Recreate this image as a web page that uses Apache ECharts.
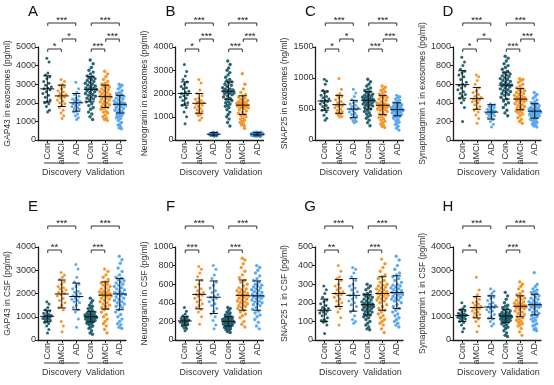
<!DOCTYPE html>
<html><head><meta charset="utf-8">
<script src="https://cdn.jsdelivr.net/npm/echarts@6/dist/echarts.min.js"></script>
<style>html,body{margin:0;padding:0;background:#fff}#c{width:554px;height:385px}</style>
</head><body><div id="c"></div>
<script>
const cats = ['Con','aMCI','AD','Con','aMCI','AD'];
const cohorts = ['Discovery','Validation'];
const letters = ['A','B','C','D','E','F','G','H'];
const yNames = ['GAP43 in exosomes (pg/ml)','Neurogranin in exosomes (pg/ml)','SNAP25 in exosomes (ng/ml)','Synaptotagmin 1 in exosomes (pg/ml)',
  'GAP43 in CSF (pg/ml)','Neurogranin in CSF (pg/ml)','SNAP25 1 in CSF (pg/ml)','Synaptotagmin 1 in CSF (pg/ml)'];
const yMax = [5000,4000,1500,1000,4000,1000,500,4000];
const yStep = [1000,1000,500,200,1000,200,100,1000];
const colors = ['#1c5d6d','#f39223','#52a5f0'];

// ---- Panel A
const A_dCon=[4400,4200,3600,3500,3400,3300,3150,3050,2950,2850,2800,2750,2700,2600,2500,2400,2300,2150,2050,2000,1950,1800,1600,1500];
const A_dMci=[3250,3150,3000,2950,2850,2750,2650,2600,2500,2450,2400,2350,2300,2250,2150,2100,2000,1950,1850,1750,1600,1450,1300,1150];
const A_dAd=[3100,2750,2550,2450,2350,2250,2200,2150,2100,2050,2000,1950,1900,1850,1800,1750,1700,1650,1550,1500,1400,1300,1200,1100];
const A_vCon=[4300,4100,3900,3750,3650,3550,3450,3400,3350,3300,3250,3200,3150,3100,3050,3000,2950,2900,2850,2800,2780,2750,2720,2700,2650,2600,2550,2500,2450,2400,2350,2300,2250,2200,2150,2050,1950,1850,1750,1650,1500,1400,1250,1100];
const A_vMci=[3700,3550,3400,3250,3150,3050,3000,2950,2900,2850,2800,2750,2700,2650,2600,2550,2500,2450,2400,2380,2350,2320,2300,2250,2200,2150,2100,2050,2000,1950,1900,1850,1800,1750,1700,1650,1550,1500,1450,1350,1250,1200,1100,1050];
const A_vAd=[3000,2950,2850,2750,2650,2550,2500,2450,2400,2350,2300,2250,2200,2150,2100,2050,2000,1980,1950,1920,1900,1880,1850,1800,1750,1700,1650,1600,1550,1500,1450,1400,1350,1300,1250,1200,1150,1050,950,850,800,700,650,600];
const A_mean=[2750,2370,2000,2720,2330,1920], A_lo=[2050,1800,1550,2050,1750,1450], A_hi=[3450,2950,2500,3400,2950,2400];
const A_sig=['*','*','***','***','***','***'];
// ---- Panel B
const B_dCon=[3250,2950,2750,2600,2500,2400,2300,2250,2200,2100,2050,2000,1950,1900,1850,1800,1700,1600,1550,1500,1400,1200,1000,700];
const B_dMci=[2600,2450,2150,2000,1900,1800,1750,1700,1650,1600,1580,1550,1500,1450,1400,1350,1300,1250,1200,1150,1100,1050,950,850];
const B_dAd=[350,330,310,300,290,280,275,270,265,260,255,250,245,240,235,230,225,220,210,200,190,180,170,150];
const B_vCon=[3400,3250,3100,3000,2900,2800,2700,2600,2550,2500,2450,2400,2350,2300,2250,2200,2180,2150,2120,2100,2080,2050,2020,2000,1980,1950,1900,1850,1800,1750,1700,1650,1600,1550,1500,1450,1400,1300,1200,1100,1000,900,750,600];
const B_vMci=[2850,2400,2200,2050,1950,1900,1850,1800,1750,1700,1680,1650,1620,1600,1580,1550,1520,1500,1480,1450,1420,1400,1380,1350,1300,1250,1200,1150,1100,1050,1000,950,900,850,800,750,700,650,600,1600,1500,1450,1550,500];
const B_vAd=[350,340,330,320,315,310,305,300,295,290,285,280,275,272,270,268,265,262,260,258,255,252,250,248,245,242,240,238,235,232,230,225,220,215,210,205,200,195,190,185,180,170,160,150];
const B_mean=[2000,1580,250,2100,1500,250], B_lo=[1500,1150,180,1750,1100,180], B_hi=[2500,2000,320,2500,1900,320];
const B_sig=['*','***','***','***','***','***'];
// ---- Panel C
const C_dCon=[980,950,900,800,780,760,720,700,680,660,640,630,620,600,580,560,540,520,500,480,450,400,350,320];
const C_dMci=[990,820,750,720,700,680,650,620,600,580,570,560,550,540,520,500,480,460,440,430,420,400,380,370];
const C_dAd=[820,760,700,650,620,600,580,560,540,520,510,500,490,470,450,430,410,390,370,350,330,310,300,280];
const C_vCon=[980,940,900,870,840,820,800,780,760,740,730,720,710,700,690,680,670,660,650,645,640,635,630,620,610,600,590,580,570,560,550,540,520,500,480,460,440,420,400,380,350,320,280,230];
const C_vMci=[870,850,820,800,780,760,740,720,700,690,680,660,640,620,600,590,580,570,565,560,555,550,545,540,530,520,510,500,490,480,460,440,420,400,380,360,340,320,300,280,260,240,220,200];
const C_vAd=[720,700,680,660,640,620,600,590,580,570,560,550,540,530,520,510,505,500,495,490,485,480,475,470,465,460,450,440,430,420,410,400,390,380,370,350,330,310,290,270,250,220,190,160];
const C_mean=[630,570,500,640,560,490], C_lo=[480,430,360,500,410,390], C_hi=[790,720,640,780,720,600];
const C_sig=['*','*','***','***','***','***'];
// ---- Panel D
const D_dCon=[890,840,800,760,740,720,700,680,650,620,600,590,580,560,540,520,500,490,470,450,430,400,350,200];
const D_dMci=[700,680,640,600,560,530,510,490,470,460,450,440,430,420,410,400,380,360,340,320,300,270,230,180];
const D_dAd=[390,380,370,360,350,340,330,320,315,310,305,300,295,290,285,280,270,260,250,240,220,200,170,140];
const D_vCon=[900,880,850,820,800,780,760,740,720,710,700,690,680,670,660,650,640,630,620,610,600,595,590,585,580,570,560,550,540,530,520,510,500,490,480,460,440,420,400,380,350,320,290,260];
const D_vMci=[660,650,640,620,600,580,560,550,540,530,520,510,500,490,480,470,460,455,450,445,440,435,430,425,420,410,400,390,380,370,360,350,340,330,320,310,300,290,280,260,240,220,200,180];
const D_vAd=[510,490,470,450,430,410,400,390,380,370,360,350,345,340,335,330,325,320,315,310,305,300,298,295,290,285,280,275,270,265,260,255,250,240,230,220,210,200,190,180,170,160,150,140];
const D_mean=[595,445,300,590,440,310], D_lo=[450,330,225,440,325,235], D_hi=[745,565,380,730,555,390];
const D_sig=['*','*','***','***','***','***'];
// ---- Panel E
const E_dCon=[1650,1550,1400,1300,1250,1200,1150,1100,1080,1050,1020,1000,980,950,920,900,880,850,800,750,700,600,450,300];
const E_dMci=[2900,2800,2700,2600,2500,2400,2300,2250,2200,2150,2100,2050,2000,1950,1900,1800,1700,1600,1500,1400,1300,800,600,350];
const E_dAd=[3250,3050,2700,2500,2400,2300,2200,2100,2050,2000,1950,1900,1850,1800,1750,1700,1650,1600,1500,1400,1300,1200,900,550];
const E_vCon=[1800,1700,1600,1500,1450,1400,1350,1300,1250,1200,1180,1150,1120,1100,1080,1060,1040,1020,1010,1000,990,980,970,960,950,940,920,900,880,860,840,820,800,780,750,720,700,650,600,550,500,400,300,250];
const E_vMci=[3050,2950,2800,2700,2600,2500,2450,2400,2350,2300,2250,2200,2150,2100,2080,2050,2020,2000,1980,1950,1920,1900,1880,1850,1800,1750,1700,1650,1600,1550,1500,1450,1400,1350,1300,1200,1100,1000,900,800,700,600,450,300];
const E_vAd=[3600,3450,3300,3100,2950,2800,2700,2650,2600,2550,2500,2450,2400,2350,2300,2250,2200,2150,2100,2050,2000,1980,1950,1900,1850,1800,1750,1700,1650,1600,1550,1500,1450,1400,1300,1200,1100,1000,900,800,700,650,550,500];
const E_mean=[1020,1980,1870,1000,1930,1980], E_lo=[780,1380,1300,780,1330,1300], E_hi=[1280,2580,2450,1220,2500,2650];
const E_sig=['**',null,'***','***',null,'***'];
// ---- Panel F
const F_dCon=[350,310,280,260,250,240,230,225,220,215,210,205,200,195,190,185,180,170,160,150,140,130,120,100];
const F_dMci=[790,760,720,680,640,600,570,550,530,510,500,490,480,470,450,430,410,390,370,350,330,300,250,170];
const F_dAd=[800,760,700,660,620,590,560,530,510,490,470,460,450,430,410,390,370,340,310,280,250,210,160,120];
const F_vCon=[350,340,320,300,290,280,270,260,250,245,240,235,230,225,220,215,210,207,204,200,197,194,190,187,184,180,176,172,168,164,160,155,150,145,140,135,130,125,120,115,110,100,90,80];
const F_vMci=[880,860,820,780,740,700,670,640,620,600,580,560,550,540,530,520,510,500,490,485,480,475,470,460,450,440,430,420,410,400,390,380,370,360,350,340,320,300,280,260,240,200,170,140];
const F_vAd=[800,780,750,720,690,660,640,620,600,590,580,570,560,550,540,530,520,510,500,490,480,475,470,465,460,450,440,430,420,410,400,390,380,370,350,330,310,290,270,250,220,190,150,120];
const F_mean=[205,490,460,200,480,475], F_lo=[160,335,285,150,320,320], F_hi=[250,645,635,250,645,635];
const F_sig=['***',null,'***','***',null,'***'];
// ---- Panel G
const G_dCon=[290,270,250,230,215,205,195,185,175,170,165,160,155,150,145,140,130,120,110,105,100,95,80,35];
const G_dMci=[400,370,340,330,320,300,290,280,270,260,255,250,245,240,230,220,210,200,190,180,170,150,120,80];
const G_dAd=[390,380,360,340,320,300,290,280,270,260,250,240,230,220,210,200,190,180,160,150,130,110,100,90];
const G_vCon=[300,290,280,270,260,250,245,240,235,230,225,220,215,210,205,200,197,194,191,188,185,182,180,177,174,170,166,162,158,154,150,145,140,135,130,125,120,110,100,90,80,70,60,55];
const G_vMci=[435,410,390,370,350,340,330,320,310,300,295,290,285,280,275,270,265,260,255,250,248,245,240,235,230,225,220,215,210,200,190,180,170,160,150,140,130,120,110,100,90,80,60,40];
const G_vAd=[450,430,400,380,360,350,340,330,320,310,300,295,290,285,280,275,270,265,260,255,250,248,245,240,235,230,225,220,215,210,200,190,180,170,160,150,140,130,120,110,100,90,80,70];
const G_mean=[160,250,240,190,250,255], G_lo=[100,180,155,135,160,170], G_hi=[220,325,330,245,340,345];
const G_sig=['**',null,'***','***',null,'***'];
// ---- Panel H
const H_dCon=[1600,1450,1350,1300,1250,1200,1150,1120,1100,1080,1060,1050,1030,1000,980,950,920,900,850,800,750,650,500,350];
const H_dMci=[2700,2150,1950,1850,1750,1650,1600,1550,1500,1450,1400,1380,1350,1300,1250,1200,1150,1100,1050,1000,900,800,600,350];
const H_dAd=[2200,2100,2000,1900,1850,1800,1700,1600,1550,1500,1450,1420,1400,1350,1300,1250,1200,1100,1000,950,900,800,700,600];
const H_vCon=[2050,1900,1750,1600,1500,1450,1400,1350,1300,1250,1200,1180,1150,1120,1100,1080,1060,1040,1030,1020,1010,1000,990,980,960,940,920,900,880,860,840,820,800,770,740,700,650,600,550,500,400,300,200,150];
const H_vMci=[2500,2400,2300,2200,2100,2000,1950,1900,1850,1800,1750,1700,1650,1600,1580,1550,1520,1500,1480,1460,1450,1440,1420,1400,1380,1350,1300,1250,1200,1150,1100,1050,1000,950,900,850,800,750,700,650,600,500,350,200];
const H_vAd=[2900,2400,2300,2200,2150,2100,2050,2000,1950,1900,1850,1800,1750,1700,1650,1600,1580,1560,1540,1520,1500,1480,1460,1440,1420,1400,1350,1300,1250,1200,1150,1100,1050,1000,950,900,850,800,700,650,600,500,450,400];
const H_mean=[1050,1400,1420,1030,1450,1520], H_lo=[800,950,920,750,1000,1080], H_hi=[1300,1870,1900,1300,1900,1970];
const H_sig=['*',null,'***','***',null,'***'];

const panels = [
  {vals:[A_dCon,A_dMci,A_dAd,A_vCon,A_vMci,A_vAd], mean:A_mean, lo:A_lo, hi:A_hi, sig:A_sig},
  {vals:[B_dCon,B_dMci,B_dAd,B_vCon,B_vMci,B_vAd], mean:B_mean, lo:B_lo, hi:B_hi, sig:B_sig},
  {vals:[C_dCon,C_dMci,C_dAd,C_vCon,C_vMci,C_vAd], mean:C_mean, lo:C_lo, hi:C_hi, sig:C_sig},
  {vals:[D_dCon,D_dMci,D_dAd,D_vCon,D_vMci,D_vAd], mean:D_mean, lo:D_lo, hi:D_hi, sig:D_sig},
  {vals:[E_dCon,E_dMci,E_dAd,E_vCon,E_vMci,E_vAd], mean:E_mean, lo:E_lo, hi:E_hi, sig:E_sig},
  {vals:[F_dCon,F_dMci,F_dAd,F_vCon,F_vMci,F_vAd], mean:F_mean, lo:F_lo, hi:F_hi, sig:F_sig},
  {vals:[G_dCon,G_dMci,G_dAd,G_vCon,G_vMci,G_vAd], mean:G_mean, lo:G_lo, hi:G_hi, sig:G_sig},
  {vals:[H_dCon,H_dMci,H_dAd,H_vCon,H_vMci,H_vAd], mean:H_mean, lo:H_lo, hi:H_hi, sig:H_sig}
];

// layout
const FONT = 'Liberation Sans, Arial, sans-serif';
const gridLeft = [38,175.5,315.5,453,38,175.5,315,453];
const gridTop = [47,47,47,47,247,247,247,247];
const GW = 88, GH = 93;
const xMin = 0.36, xMax = 6.43;
const INK = '#1e1e1e';

const grids = [], xAxes = [], yAxes = [], series = [];

function jitterX(i, v, m, s, w) {
  const u = ((i * 0.618034 + 0.37) % 1) * 2 - 1;
  const z = (v - m) / s;
  return u * w * (0.3 + 0.7 * Math.exp(-0.5 * z * z));
}

panels.forEach((p, k) => {
  grids.push({left: gridLeft[k], top: gridTop[k], width: GW, height: GH});
  xAxes.push({
    gridIndex: k, type: 'value', min: xMin, max: xMax,
    axisLine: {show: true, onZero: false, lineStyle: {color: INK, width: 1.3}},
    splitLine: {show: false},
    axisTick: {show: true, customValues: [1,2,3,4,5,6], length: 3, lineStyle: {color: INK}},
    axisLabel: {customValues: [1,2,3,4,5,6], formatter: v => cats[Math.round(v) - 1], rotate: 90,
      fontSize: 9, color: '#333', margin: 3, fontFamily: FONT}
  });
  yAxes.push({
    gridIndex: k, type: 'value', min: 0, max: yMax[k], interval: yStep[k],
    axisLine: {show: true, lineStyle: {color: INK, width: 1.3}},
    axisTick: {show: true, length: 3, lineStyle: {color: INK}},
    splitLine: {show: false},
    axisLabel: {fontSize: 9, color: '#333', margin: 2, fontFamily: FONT, formatter: v => String(v)},
    name: yNames[k], nameLocation: 'middle', nameGap: 26,
    nameTextStyle: {fontSize: 8.5, color: '#333', fontFamily: FONT}
  });
  p.vals.forEach((arr, g) => {
    const m = p.mean[g], s = Math.max((p.hi[g] - p.lo[g]) / 2, 1);
    const w = g < 3 ? 0.33 : 0.43;
    series.push({
      type: 'scatter', xAxisIndex: k, yAxisIndex: k, silent: true, z: 2,
      symbol: 'circle', symbolSize: g < 3 ? 3 : 3.4,
      itemStyle: {color: colors[g % 3], opacity: 0.95},
      data: arr.map((v, i) => [g + 1 + jitterX(i, v, m, s, w), v])
    });
  });
  // mean ± SD bars
  series.push({
    type: 'custom', xAxisIndex: k, yAxisIndex: k, silent: true, z: 5,
    data: p.mean.map((m, g) => [g + 1, m, p.lo[g], p.hi[g]]),
    renderItem: (params, api) => {
      const c = api.coord([api.value(0), api.value(1)]);
      const yl = api.coord([api.value(0), api.value(2)])[1];
      const yh = api.coord([api.value(0), api.value(3)])[1];
      const st = {stroke: '#111', lineWidth: 1};
      return {type: 'group', children: [
        {type: 'line', shape: {x1: c[0], y1: yl, x2: c[0], y2: yh}, style: st},
        {type: 'line', shape: {x1: c[0] - 4, y1: yl, x2: c[0] + 4, y2: yl}, style: st},
        {type: 'line', shape: {x1: c[0] - 4, y1: yh, x2: c[0] + 4, y2: yh}, style: st},
        {type: 'line', shape: {x1: c[0] - 7, y1: c[1], x2: c[0] + 7, y2: c[1]}, style: st}
      ]};
    }
  });
  // significance brackets
  const top = k < 4;
  const pairs = [[1,2, top ? 2 : 3],[2,3,-8],[1,3, top ? -24 : -21],[4,5, top ? 2 : 3],[5,6,-8],[4,6, top ? -24 : -21]];
  const bdata = [];
  pairs.forEach((pr, j) => { if (p.sig[j]) bdata.push([pr[0], pr[1], pr[2], j]); });
  series.push({
    type: 'custom', xAxisIndex: k, yAxisIndex: k, silent: true, z: 6, clip: false,
    data: bdata,
    renderItem: (params, api) => {
      const cs = params.coordSys;
      const x1 = api.coord([api.value(0), 0])[0] + 0.5;
      const x2 = api.coord([api.value(1), 0])[0] - 0.5;
      const y = cs.y + api.value(2);
      const lab = p.sig[api.value(3)];
      return {type: 'group', children: [
        {type: 'polyline', shape: {points: [[x1, y + 3], [x1, y], [x2, y], [x2, y + 3]]}, style: {stroke: '#333', lineWidth: 1, fill: null}},
        {type: 'text', style: {text: lab, x: (x1 + x2) / 2, y: y + 2.5, align: 'center', verticalAlign: 'bottom', fontSize: 9.5, fontFamily: FONT, fill: '#222'}}
      ]};
    }
  });
  // cohort labels and panel letter
  series.push({
    type: 'custom', xAxisIndex: k, yAxisIndex: k, silent: true, z: 6, clip: false,
    data: [[0.78, 3.22, 0], [3.78, 6.22, 1]],
    renderItem: (params, api) => {
      const cs = params.coordSys;
      const x1 = api.coord([api.value(0), 0])[0];
      const x2 = api.coord([api.value(1), 0])[0];
      const y = cs.y + cs.height + 23;
      const ch = [
        {type: 'line', shape: {x1: x1, y1: y, x2: x2, y2: y}, style: {stroke: '#333', lineWidth: 1}},
        {type: 'text', style: {text: cohorts[api.value(2)], x: (x1 + x2) / 2, y: y + 10, align: 'center', verticalAlign: 'middle', fontSize: 9, fontFamily: FONT, fill: '#333'}}
      ];
      if (api.value(2) === 0) {
        ch.push({type: 'text', style: {text: letters[k], x: cs.x - 5, y: cs.y - (top ? 35 : 40), align: 'center', verticalAlign: 'middle', fontSize: 15, fontFamily: FONT, fill: '#111'}});
      }
      return {type: 'group', children: ch};
    }
  });
});

const chart = echarts.init(document.getElementById('c'), null, {renderer: 'canvas'});
chart.setOption({animation: false, backgroundColor: '#fff', grid: grids, xAxis: xAxes, yAxis: yAxes, series: series});
</script>
</body></html>
